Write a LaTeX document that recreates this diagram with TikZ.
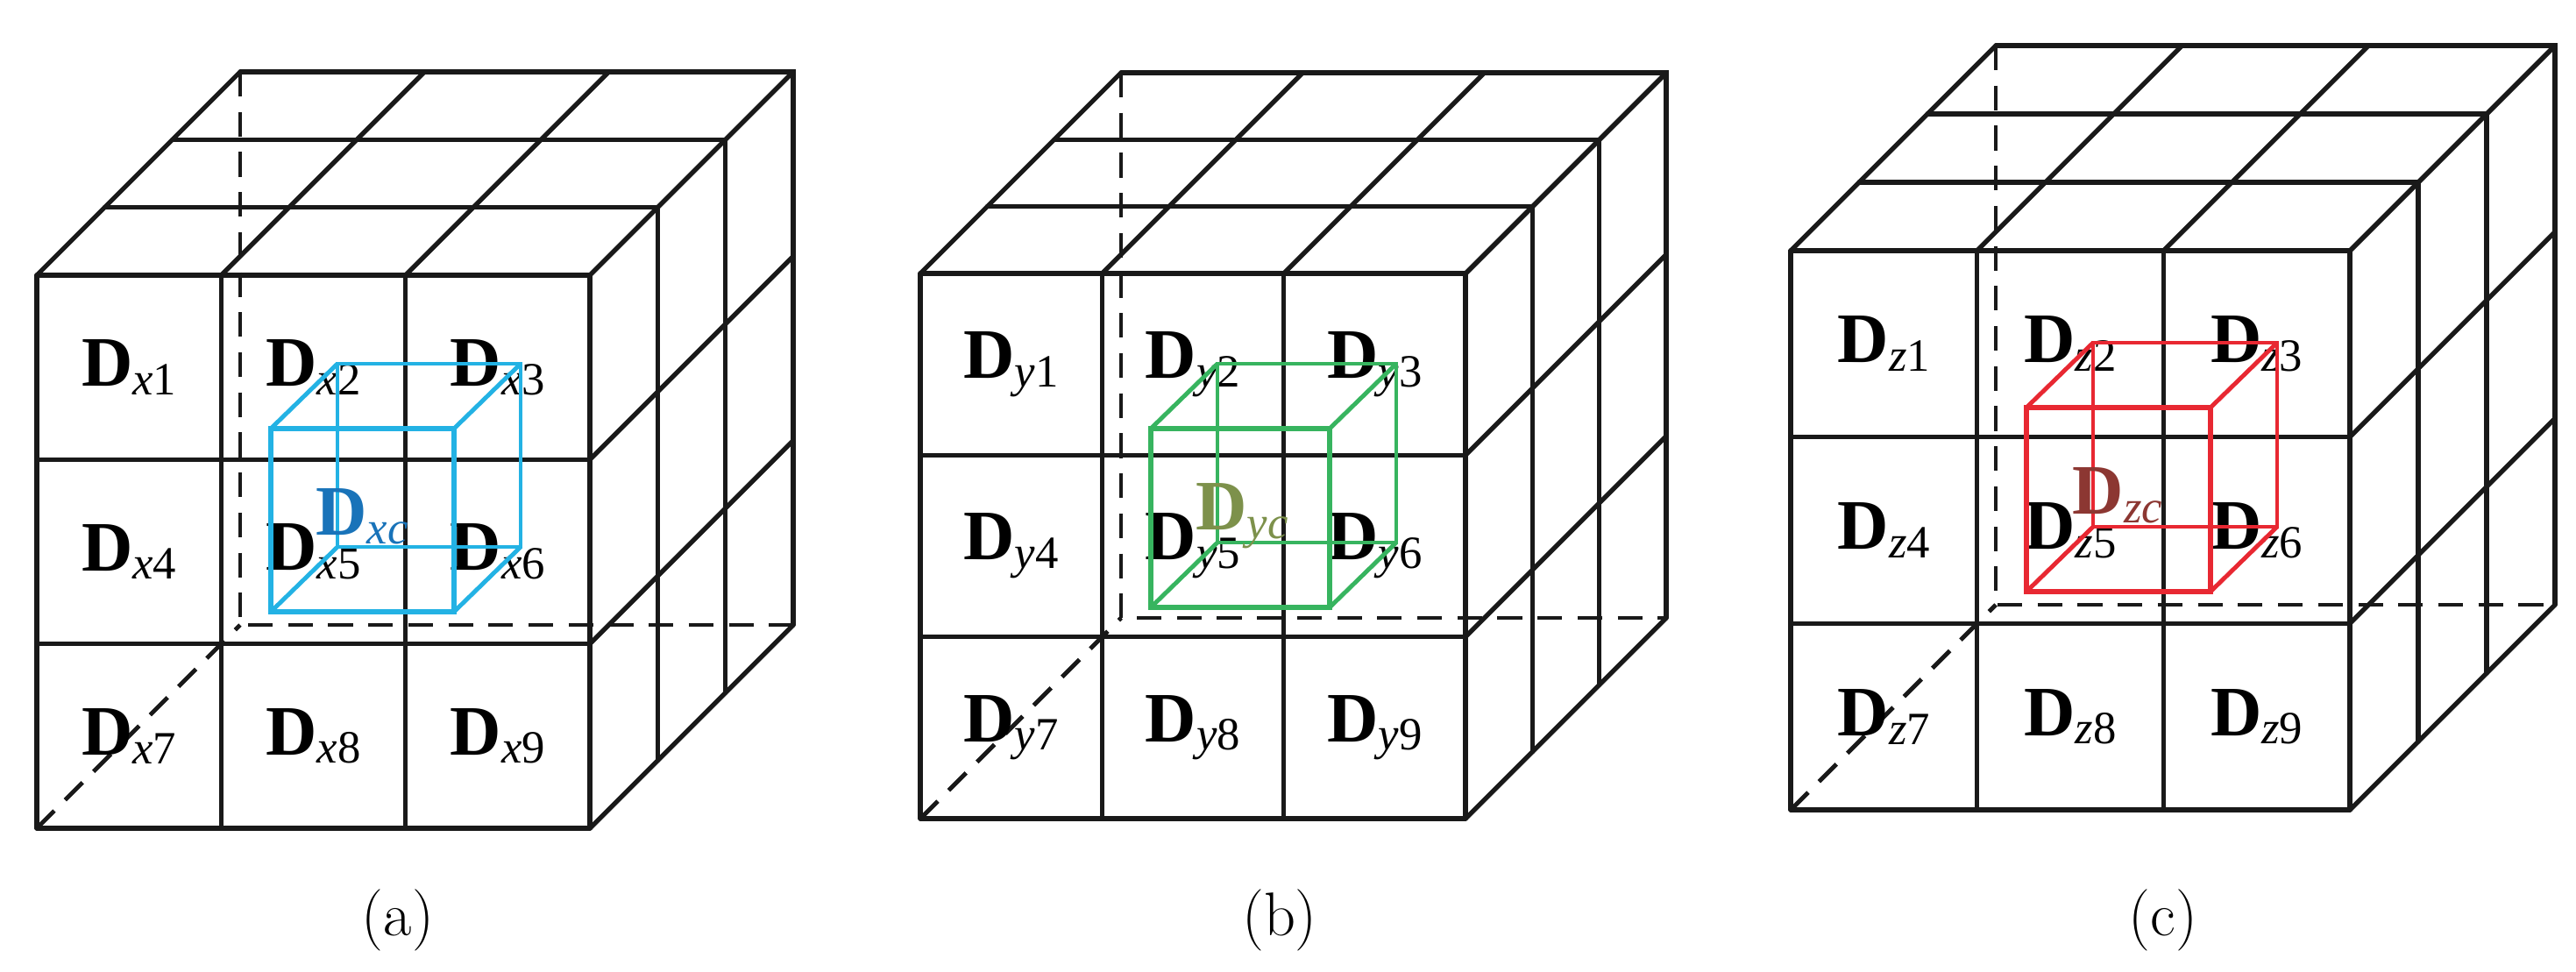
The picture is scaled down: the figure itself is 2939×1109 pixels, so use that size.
\documentclass[tikz,border=0pt]{standalone}
\usepackage{fontspec}
\setmainfont{Liberation Serif}
\newfontfamily\capfont{Latin Modern Roman}
\definecolor{cA}{RGB}{35,178,228}
\definecolor{cAt}{RGB}{25,115,185}
\definecolor{cB}{RGB}{55,180,95}
\definecolor{cBt}{RGB}{125,145,75}
\definecolor{cC}{RGB}{232,40,50}
\definecolor{cCt}{RGB}{140,55,50}
\tikzset{edge/.style={line width=1.5pt,black!90,line cap=round},
  hid/.style={line width=1.4pt,black!90,dash pattern=on 8pt off 5pt},
  lab/.style={inner sep=0pt,font=\fontsize{23}{23}\selectfont},
  captext/.style={font=\capfont\fontsize{20}{20}\selectfont}}
\newcommand\Dl[2]{\textbf{D}\raisebox{-0.12em}{\fontsize{15}{15}\selectfont\textit{#1}#2}}
% #1 x0 #2 ytop #3 s #4 d #5 letter
\newcommand\bigcube[5]{%
\begin{scope}[shift={(#1,#2)},x=#3*0.01cm,y=-#3*0.01cm]
\pgfmathsetmacro\k{#4/#3}
\foreach \u in {0,1/3,2/3,1}{\draw[edge] (\u,0)--++(\k,-\k); \draw[edge] (\u,0)--(\u,1);
  \draw[edge] (0,\u)--(1,\u); \draw[edge] (1,\u)--++(\k,-\k);}
\foreach \t in {1/3,2/3,1}{\draw[edge] (\t*\k,-\t*\k)--(1+\t*\k,-\t*\k)--(1+\t*\k,1-\t*\k);}
\draw[hid] (0,1)--(\k,1-\k);
\draw[hid] (\k,-\k)--(\k,1-\k)--(1+\k,1-\k);
\foreach \r in {0,1,2}{\foreach \c in {0,1,2}{
  \pgfmathtruncatemacro\n{3*\r+\c+1}
  \node[lab] (l#5\n) at ({(\c+0.5)/3},{(\r+0.5)/3}) {\Dl{#5}{\n}};}}
\end{scope}}
% #1 ix #2 iy #3 size #4 color #5 textcolor #6 letter
\newcommand\smallcube[6]{%
\begin{scope}[shift={(#1,#2)}]
\draw[#4,line width=1.4pt] (76,-74) rectangle (76+#3,-74+#3);
\foreach \p in {(0,0),(#3,0),(0,#3),(#3,#3)}{\draw[#4,line width=1.4pt] \p -- ++(76,-74);}
\draw[#4,line width=1.9pt] (0,0) rectangle (#3,#3);
\node[lab,text=#5] (c#6) at (104,100) {\textbf{D}\raisebox{-0.12em}{\fontsize{15}{15}\selectfont\textit{#6c}}};
\end{scope}}
\begin{document}
\begin{tikzpicture}[x=0.01cm,y=-0.01cm]
\useasboundingbox (0,0) rectangle (2939,1109);
\fill[white] (0,0) rectangle (2939,1109);
\bigcube{42}{314}{631}{232}{x}
\smallcube{309}{489}{209}{cA}{cAt}{x}
\bigcube{1050}{312}{622}{229}{y}
\smallcube{1313}{489}{204}{cB}{cBt}{y}
\bigcube{2043}{286}{638}{234}{z}
\smallcube{2312}{465}{210}{cC}{cCt}{z}
\node[captext] (ca) at (454,1050) {(a)};
\node[captext] (cb) at (1460,1050) {(b)};
\node[captext] (cc) at (2468,1050) {(c)};
\end{tikzpicture}
\end{document}
